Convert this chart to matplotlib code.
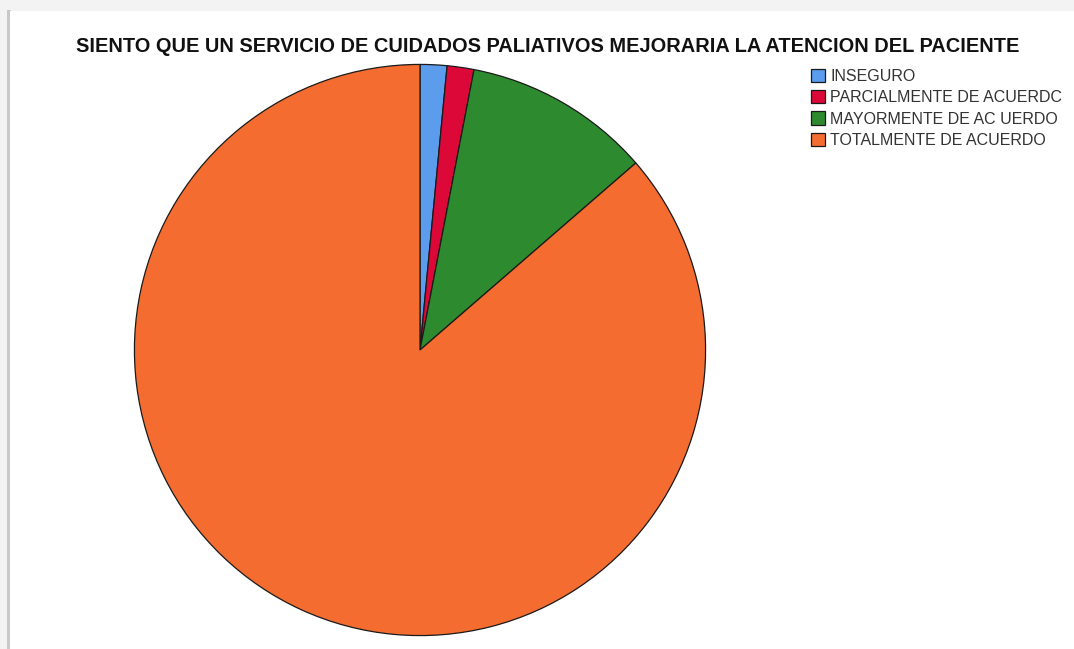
import matplotlib.pyplot as plt
from matplotlib.patches import Rectangle

# Respuestas a la pregunta sobre cuidados paliativos
categorias = ['INSEGURO', 'PARCIALMENTE DE ACUERDC',
              'MAYORMENTE DE AC UERDO', 'TOTALMENTE DE ACUERDO']
frecuencias = [1, 1, 7, 57]
colores = ['#5b9cec', '#dc0838', '#2e8a2e', '#f46c30']

titulo = 'SIENTO QUE UN SERVICIO DE CUIDADOS PALIATIVOS MEJORARIA LA ATENCION DEL PACIENTE'

W, H = 1074, 649
fig = plt.figure(figsize=(W / 100, H / 100), dpi=100)
fig.patch.set_facecolor('white')

# marco gris con sombra alrededor del grafico
fig.patches.append(Rectangle((0, 0), 1, 1, transform=fig.transFigure,
                             facecolor='#f3f3f3', edgecolor='none', zorder=-3))
fig.patches.append(Rectangle((7 / W, 0), 4 / W, (H - 10) / H, transform=fig.transFigure,
                             facecolor='#c8c8c8', edgecolor='none', zorder=-2))
fig.patches.append(Rectangle((10 / W, 0), 1 - 10 / W, (H - 11) / H, transform=fig.transFigure,
                             facecolor='white', edgecolor='none', zorder=-1))

cx, cy, r = 420, 350, 287
ax = fig.add_axes([(cx - r) / W, (H - cy - r) / H, 2 * r / W, 2 * r / H])
ax.set_zorder(2)
wedges, _ = ax.pie(frecuencias, colors=colores, startangle=90, counterclock=False,
                   radius=1, wedgeprops=dict(edgecolor='#1a1a1a', linewidth=0.9))
ax.set_xlim(-1.005, 1.005)
ax.set_ylim(-1.005, 1.005)
ax.set_aspect('equal')
ax.axis('off')

fig.text(548 / W, 1 - 47 / H, titulo, ha='center', va='center',
         fontsize=14.4, fontweight='bold', family='Liberation Sans', color='#111111')

leg = fig.legend(wedges, categorias, loc='upper left', bbox_to_anchor=(811 / W, 1 - 69 / H),
                 frameon=False, prop=dict(family='Liberation Sans', size=11.5),
                 handlelength=0.9, handleheight=0.9, handletextpad=0.3,
                 labelspacing=0.38, borderpad=0, borderaxespad=0)
for t in leg.get_texts():
    t.set_color('#333333')

fig.savefig('out.png', dpi=100)
